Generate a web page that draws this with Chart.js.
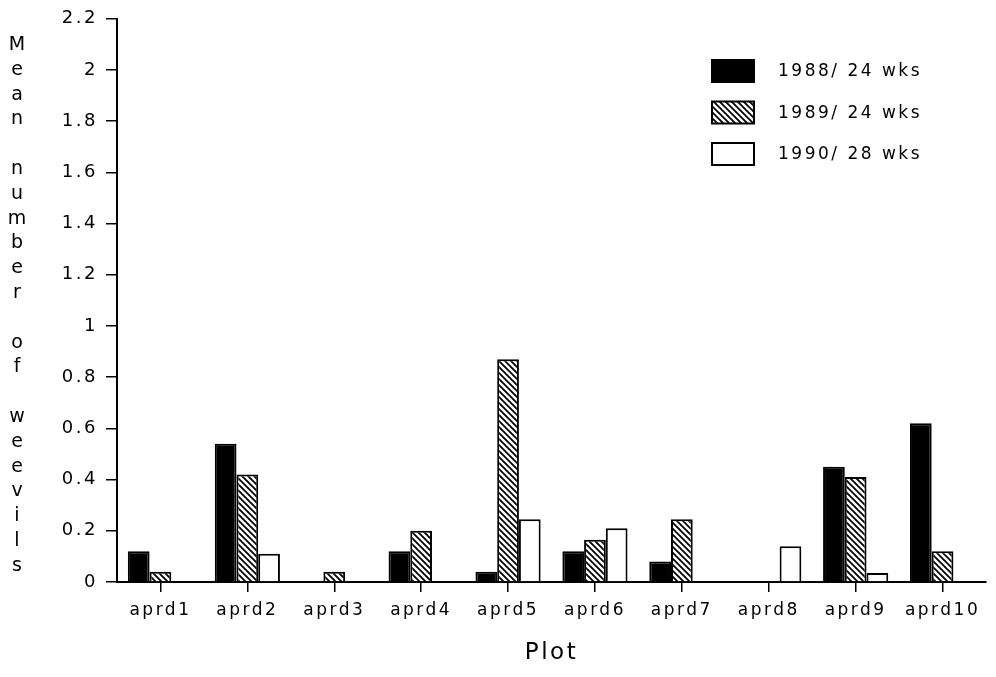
<!DOCTYPE html>
<html>
<head>
<meta charset="utf-8">
<script src="https://cdn.jsdelivr.net/npm/chart.js@4.4.1/dist/chart.umd.min.js"></script>
<style>
  body { margin: 0; background: #fff; }
  #wrap { width: 996px; height: 677px; }
</style>
</head>
<body>
<div id="wrap"><canvas id="chart"></canvas></div>
<script>
const plots = ['aprd1', 'aprd2', 'aprd3', 'aprd4', 'aprd5', 'aprd6', 'aprd7', 'aprd8', 'aprd9', 'aprd10'];
const seriesLabels = ['1988/ 24 wks', '1989/ 24 wks', '1990/ 28 wks'];
const weevils1988 = [0.12, 0.54, 0, 0.12, 0.04, 0.12, 0.08, 0, 0.45, 0.62];
const weevils1989 = [0.04, 0.42, 0.04, 0.20, 0.87, 0.165, 0.245, 0, 0.41, 0.12];
const weevils1990 = [0, 0.11, 0, 0, 0.245, 0.21, 0, 0.14, 0.035, 0];
const yTickLabels = ['0', '0.2', '0.4', '0.6', '0.8', '1', '1.2', '1.4', '1.6', '1.8', '2', '2.2'];
const yTitle = 'Mean number of weevils';
const xTitle = 'Plot';

const FONT = '"DejaVu Sans", sans-serif';

// hatch "\\\" pattern for 1989
function makeHatch() {
    const s = 6;
    const c = document.createElement('canvas');
    c.width = s; c.height = s;
    const g = c.getContext('2d');
    g.fillStyle = '#fff';
    g.fillRect(0, 0, s, s);
    g.strokeStyle = '#000';
    g.lineWidth = 1.8;
    g.beginPath();
    g.moveTo(0, 0); g.lineTo(s, s);
    g.moveTo(-1, s - 1); g.lineTo(1, s + 1);
    g.moveTo(s - 1, -1); g.lineTo(s + 1, 1);
    g.stroke();
    return g.createPattern(c, 'repeat');
}
const hatch = makeHatch();

// letter spacing like the old plotter font
const spacing = {
    id: 'spacing',
    beforeLayout(chart) { chart.ctx.letterSpacing = '2.5px'; },
    beforeDraw(chart) { chart.ctx.letterSpacing = '2.5px'; }
};

// stacked letters for the y title + legend in the upper right
const extras = {
    id: 'extras',
    afterDraw(chart) {
        const ctx = chart.ctx;
        ctx.save();
        ctx.fillStyle = '#000';
        ctx.font = '19px ' + FONT;
        ctx.letterSpacing = '0px';
        ctx.textAlign = 'center';
        ctx.textBaseline = 'middle';
        yTitle.split('').forEach((ch, i) => {
            if (ch !== ' ') ctx.fillText(ch, 17, 45 + i * 24.8);
        });

        ctx.font = '17px ' + FONT;
        ctx.letterSpacing = '2.5px';
        ctx.textAlign = 'left';
        chart.data.datasets.forEach((ds, i) => {
            const top = 60 + i * 41.5;
            ctx.fillStyle = ds.backgroundColor;
            ctx.fillRect(712, top, 42, 22);
            ctx.strokeStyle = '#000';
            ctx.lineWidth = 2;
            ctx.strokeRect(712, top, 42, 22);
            ctx.fillStyle = '#000';
            ctx.fillText(ds.label, 778, top + 12);
        });
        ctx.restore();
    }
};

new Chart(document.getElementById('chart'), {
    type: 'bar',
    data: {
        labels: plots,
        datasets: [
            { label: seriesLabels[0], data: weevils1988, backgroundColor: '#000', borderColor: '#000', borderWidth: 2 },
            { label: seriesLabels[1], data: weevils1989, backgroundColor: hatch, borderColor: '#000', borderWidth: 2 },
            { label: seriesLabels[2], data: weevils1990, backgroundColor: '#fff', borderColor: '#000', borderWidth: 2 }
        ]
    },
    options: {
        responsive: true,
        maintainAspectRatio: false,
        animation: false,
        layout: { padding: { top: 18, right: 10, left: 0, bottom: 0 } },
        datasets: { bar: { categoryPercentage: 0.75, barPercentage: 1.0 } },
        plugins: {
            legend: { display: false },
            tooltip: { enabled: false }
        },
        scales: {
            x: {
                grid: { display: true, drawOnChartArea: false, offset: false, color: '#000', lineWidth: 1.5, tickLength: 10 },
                border: { display: true, color: '#000', width: 2 },
                ticks: { color: '#000', font: { family: FONT, size: 17 }, padding: 8, maxRotation: 0, autoSkip: false },
                title: { display: true, text: xTitle, color: '#000', font: { family: FONT, size: 23 }, padding: { top: 0, bottom: 10 } },
                afterFit(scale) { scale.height = 95; }
            },
            y: {
                min: 0,
                max: 2.2,
                grid: { display: true, drawOnChartArea: false, color: '#000', lineWidth: 1.5, tickLength: 11 },
                border: { display: true, color: '#000', width: 2 },
                ticks: {
                    stepSize: 0.2,
                    color: '#000',
                    font: { family: FONT, size: 18 },
                    padding: 8,
                    callback: (value, index) => yTickLabels[index]
                },
                afterFit(scale) { scale.width = 117; }
            }
        }
    },
    plugins: [spacing, extras]
});
</script>
</body>
</html>
